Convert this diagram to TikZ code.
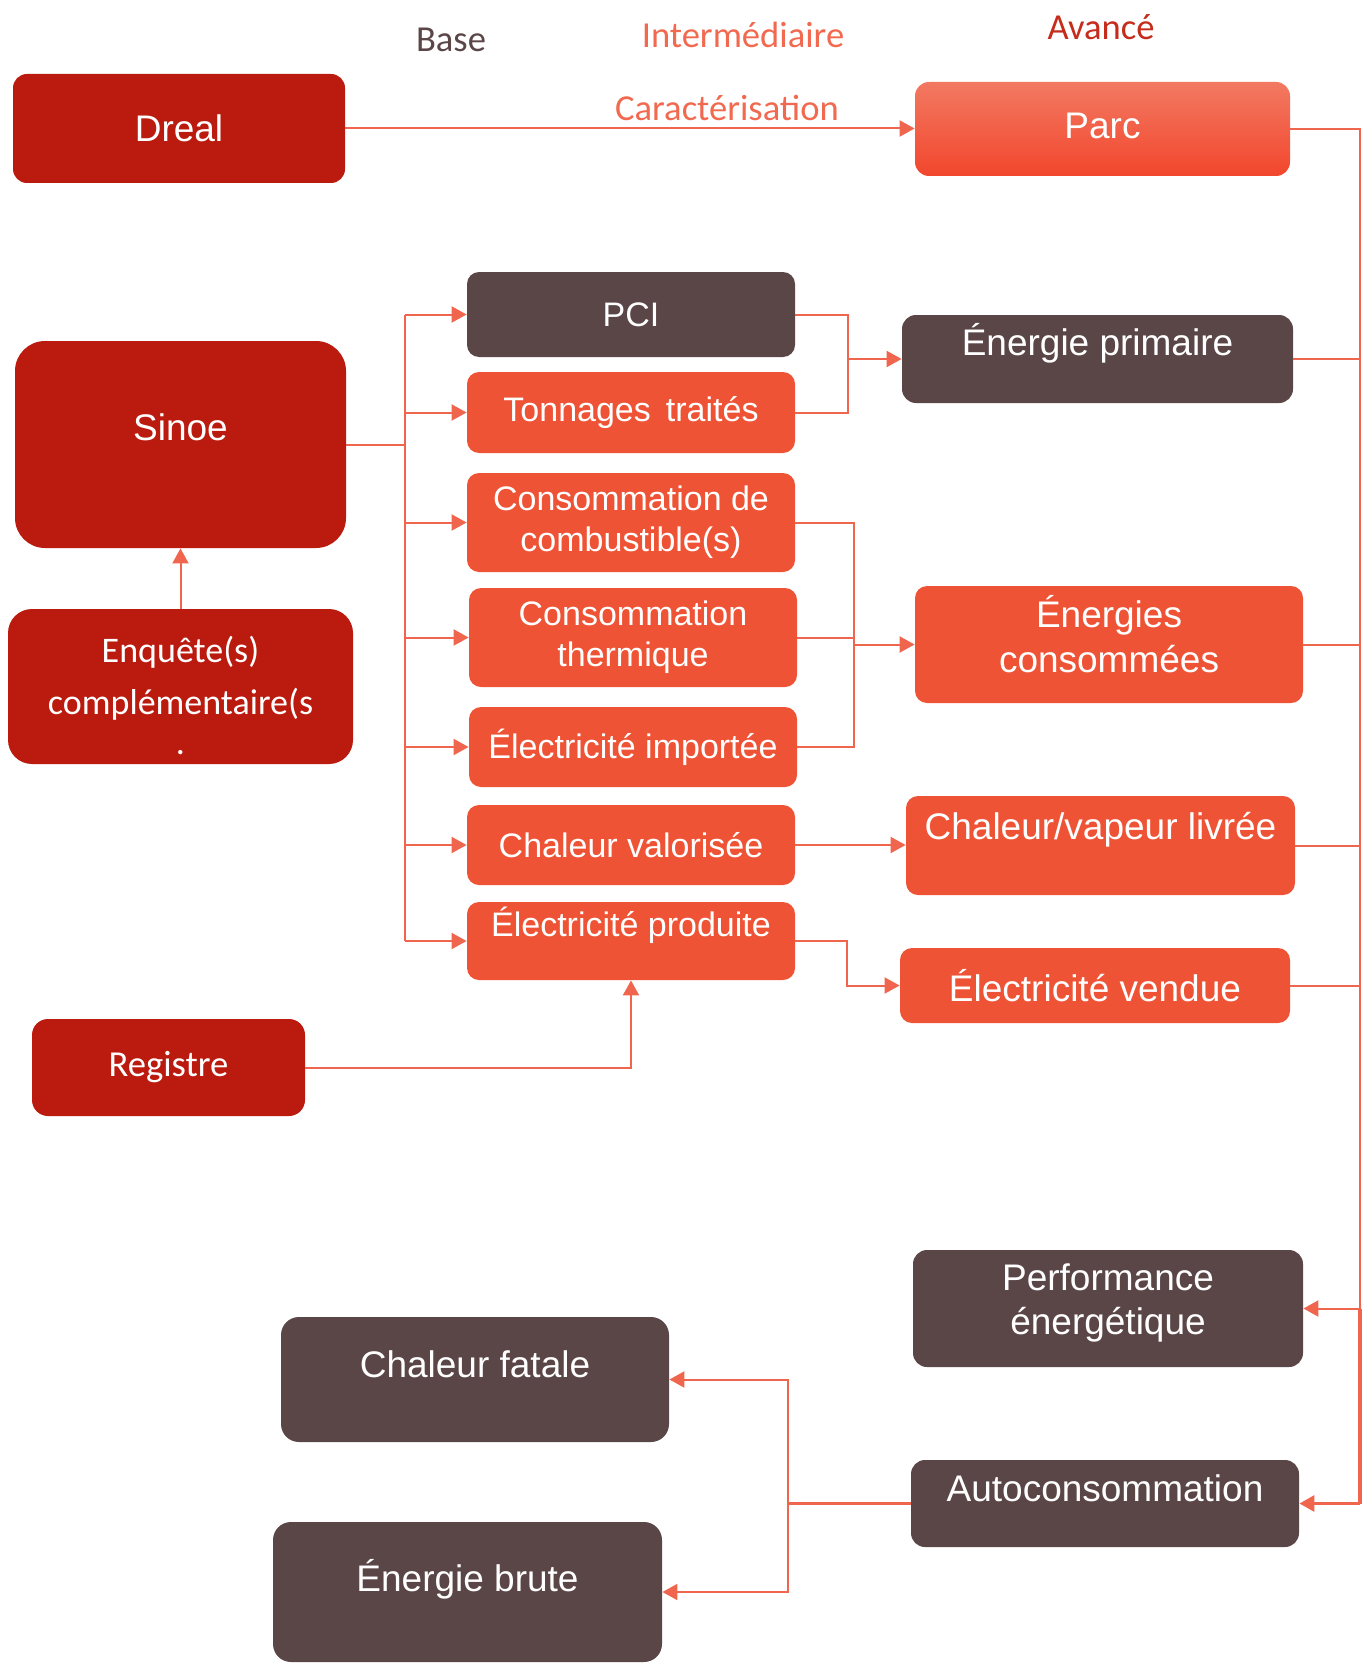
\documentclass[tikz,border=0pt]{standalone}
\usepackage{fontspec}
\setmainfont{Liberation Sans}
\newfontfamily\calibri{Carlito}
\usepackage{xcolor}
\usetikzlibrary{arrows.meta, calc}

\definecolor{deepred}{HTML}{BB1A0E}
\definecolor{flame}{HTML}{EF5335}
\definecolor{slate}{HTML}{5A4547}
\definecolor{wire}{HTML}{F0654D}
\definecolor{salmon}{HTML}{F16A50}
\definecolor{crimson}{HTML}{C52C1B}

\begin{document}
\begin{tikzpicture}[x=0.5pt, y=-0.5pt,
    srcbox/.style={rectangle, rounded corners=7pt, fill=deepred, text=white, align=center, inner sep=2pt, font=\fontsize{18.5}{22}\selectfont},
    midbox/.style={rectangle, rounded corners=6pt, fill=flame, text=white, align=center, inner sep=2pt, minimum width=164pt, font=\fontsize{17}{20.5}\selectfont},
    outbox/.style={rectangle, rounded corners=6pt, fill=flame, text=white, align=center, inner sep=2pt, font=\fontsize{18.5}{22.5}\selectfont},
    greybox/.style={rectangle, rounded corners=7pt, fill=slate, text=white, align=center, inner sep=2pt, font=\fontsize{18.5}{22}\selectfont},
    boxtxt/.style={text=white, align=center, inner sep=0pt, font=\fontsize{18.5}{22}\selectfont},
    head/.style={font=\calibri\fontsize{18.3}{22}\selectfont, inner sep=0pt},
    link/.style={draw=wire, line width=1pt},
    linkarrow/.style={link, -{Triangle[length=7.5pt, width=8pt]}}
]
    \useasboundingbox (0,0) rectangle (1371,1664);

    % LEVEL HEADERS
    \node (base) [head, text=slate] at (451,40) {Base};
    \node (inter) [head, text=salmon] at (743,35) {Intermédiaire};
    \node (avance) [head, text=crimson] at (1101,27) {Avancé};

    % TOP ROW: DREAL -> PARC
    \node (dreal) [srcbox, minimum width=166pt, minimum height=54.5pt] at (179,128.5) {Dreal};
    \node (parc) [rectangle, rounded corners=7pt, top color=salmon!90!white, bottom color=flame!85!red, text=white, inner sep=2pt, minimum width=187.5pt, minimum height=47pt, font=\fontsize{18.5}{22}\selectfont] at (1102.5,129) {};
    \node (parc-t) [boxtxt] at (1102.5,126) {Parc};
    \draw[linkarrow] (dreal.east) -- (dreal.east -| parc.west);
    \node (carac) [head, text=salmon] at (727,108) {Caractérisation};

    % LEFT: SOURCES
    \node (sinoe) [srcbox, rounded corners=15pt, minimum width=165.5pt, minimum height=103.5pt] at (180.5,444.5) {};
    \node (sinoe-t) [boxtxt] at (180.5,427) {Sinoe};
    \node (enquete) [srcbox, rounded corners=12pt, minimum width=172.5pt, minimum height=77.5pt] at (180.5,686.5) {};
    \node (enquete-t) [boxtxt, font=\calibri\fontsize{18}{26}\selectfont] at (180.5,695) {Enquête(s)\\complémentaire(s\\[-6pt].};
    \node (registre) [srcbox, rounded corners=8pt, minimum width=136.5pt, minimum height=48.5pt, font=\calibri\fontsize{18.3}{22}\selectfont] at (168.5,1067.5) {Registre};

    % MIDDLE: DATA
    \node (pci) [midbox, fill=slate, minimum height=42.5pt] at (631,314.5) {PCI};
    \node (ton) [midbox, minimum height=40.5pt] at (631,412.5) {Tonnages\, traités};
    \node (ccomb) [midbox, minimum height=49.5pt] at (631,522.5) {Consommation de\\combustible(s)};
    \node (ctherm) [midbox, minimum height=49.5pt] at (633,637.5) {Consommation\\thermique};
    \node (elimp) [midbox, minimum height=40pt] at (633,747) {Électricité importée};
    \node (chval) [midbox, minimum height=40pt] at (631,845) {Chaleur valorisée};
    \node (elprod) [midbox, minimum height=39pt] at (631,941) {};
    \node (elprod-t) [boxtxt, font=\fontsize{17}{20}\selectfont] at (631,925) {Électricité produite};

    % RIGHT: INDICATORS
    \node (eprim) [greybox, minimum width=195.5pt, minimum height=44pt] at (1097.5,359) {};
    \node (eprim-t) [boxtxt] at (1097.5,343) {Énergie primaire};
    \node (econs) [outbox, minimum width=194pt, minimum height=58.5pt] at (1109,644.5) {};
    \node (econs-t) [boxtxt, font=\fontsize{18.5}{22.5}\selectfont] at (1109,634) {Énergies\\consommées};
    \node (chliv) [outbox, minimum width=194.5pt, minimum height=49.5pt] at (1100.5,845.5) {};
    \node (chliv-t) [boxtxt] at (1100.5,830) {Chaleur/vapeur livrée};
    \node (elvend) [outbox, minimum width=195pt, minimum height=37.5pt] at (1095,985.5) {Électricité vendue};

    % BOTTOM: RESULTS
    \node (perf) [greybox, minimum width=195pt, minimum height=58.5pt] at (1108,1308.5) {};
    \node (perf-t) [boxtxt] at (1108,1303) {Performance\\énergétique};
    \node (auto) [greybox, minimum width=194pt, minimum height=43.5pt] at (1105,1503.5) {};
    \node (auto-t) [boxtxt] at (1105,1488) {Autoconsommation};
    \node (chfat) [greybox, rounded corners=9pt, minimum width=194pt, minimum height=62.5pt] at (475,1379.5) {};
    \node (chfat-t) [boxtxt] at (475,1364) {Chaleur fatale};
    \node (ebrute) [greybox, rounded corners=9pt, minimum width=194.5pt, minimum height=70pt] at (467.5,1592) {};
    \node (ebrute-t) [boxtxt] at (467.5,1579) {Énergie brute};

    % SOURCES -> DATA
    \coordinate (lbus) at (405,444.5);
    \draw[link] (sinoe.east) -- (lbus);
    \draw[link] (lbus |- pci.west) -- (lbus |- elprod.west);
    \draw[linkarrow] (lbus |- pci.west) -- (pci.west);
    \draw[linkarrow] (lbus |- ton.west) -- (ton.west);
    \draw[linkarrow] (lbus |- ccomb.west) -- (ccomb.west);
    \draw[linkarrow] (lbus |- ctherm.west) -- (ctherm.west);
    \draw[linkarrow] (lbus |- elimp.west) -- (elimp.west);
    \draw[linkarrow] (lbus |- chval.west) -- (chval.west);
    \draw[linkarrow] (lbus |- elprod.west) -- (elprod.west);
    \draw[linkarrow] (enquete.north) -- (sinoe.south);
    \draw[linkarrow] (registre.east) -| (elprod.south);

    % DATA -> INDICATORS
    \coordinate (jprim) at (848,359);
    \draw[link] (pci.east) -| (jprim) |- (ton.east);
    \draw[linkarrow] (jprim) -- (eprim.west);
    \coordinate (jcons) at (854,644.5);
    \draw[link] (ccomb.east) -| (jcons) |- (elimp.east);
    \draw[link] (ctherm.east) -- (ctherm.east -| jcons);
    \draw[linkarrow] (jcons) -- (econs.west);
    \draw[linkarrow] (chval.east) -- (chliv.west |- chval.east);
    \coordinate (jvend) at (847,985.5);
    \draw[linkarrow] (elprod.east) -| (jvend) -- (elvend.west);

    % INDICATORS -> RESULTS
    \coordinate (rbus) at (1360,129);
    \draw[link] (parc.east) -- (rbus) -- (rbus |- perf.east);
    \draw[link] (eprim.east) -- (eprim.east -| rbus);
    \draw[link] (econs.east) -- (econs.east -| rbus);
    \draw[link] (chliv.east) -- (chliv.east -| rbus);
    \draw[link] (elvend.east) -- (elvend.east -| rbus);
    \draw[link, line width=1.6pt] (rbus |- perf.east) -- (rbus |- auto.east);
    \draw[linkarrow] (rbus |- perf.east) -- (perf.east);
    \draw[linkarrow, line width=1.6pt] (rbus |- auto.east) -- (auto.east);

    % AUTOCONSOMMATION -> SPLIT
    \coordinate (jauto) at (788,1503.5);
    \draw[link, line width=1.4pt] (auto.west) -- (jauto);
    \draw[linkarrow] (jauto) |- (chfat.east);
    \draw[linkarrow] (jauto) |- (ebrute.east);
\end{tikzpicture}
\end{document}
